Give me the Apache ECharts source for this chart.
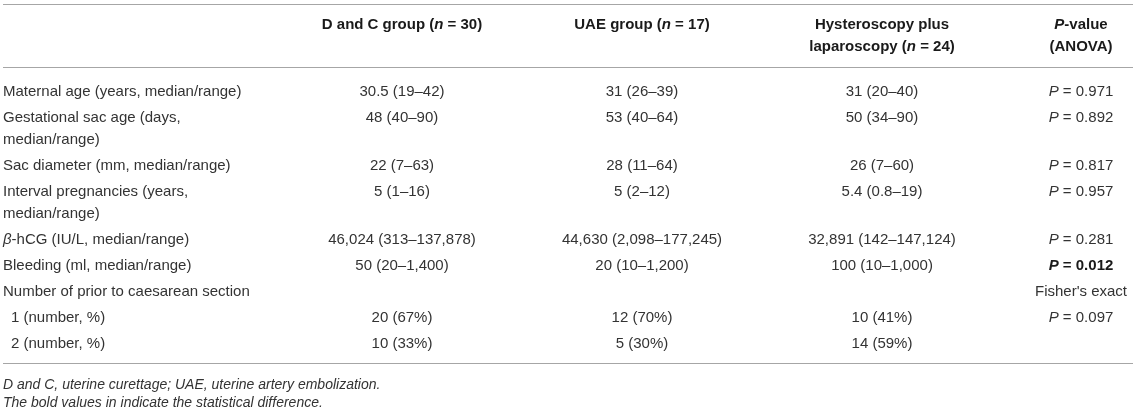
<!DOCTYPE html>
<html lang="en">
<head>
  <title>Table 1</title>
  <meta charset="utf-8"/>
  <script src="https://cdn.jsdelivr.net/npm/echarts@6/dist/echarts.min.js"></script>
  <style>
    html, body { margin: 0; padding: 0; background: #fff; }
    #main { width: 1145px; height: 410px; }
  </style>
</head>
<body>
<div id="main"></div>
<script>
  // table content
  var headers = [
    '',
    'D and C group (n = 30)',
    'UAE group (n = 17)',
    'Hysteroscopy plus\nlaparoscopy (n = 24)',
    'P-value\n(ANOVA)'
  ];
  var rowLabels = [
    'Maternal age (years, median/range)',
    'Gestational sac age (days,\nmedian/range)',
    'Sac diameter (mm, median/range)',
    'Interval pregnancies (years,\nmedian/range)',
    'β-hCG (IU/L, median/range)',
    'Bleeding (ml, median/range)',
    'Number of prior to caesarean section',
    '1 (number, %)',
    '2 (number, %)'
  ];
  var dcGroup = ['30.5 (19–42)', '48 (40–90)', '22 (7–63)', '5 (1–16)', '46,024 (313–137,878)', '50 (20–1,400)', '', '20 (67%)', '10 (33%)'];
  var uaeGroup = ['31 (26–39)', '53 (40–64)', '28 (11–64)', '5 (2–12)', '44,630 (2,098–177,245)', '20 (10–1,200)', '', '12 (70%)', '5 (30%)'];
  var hlGroup = ['31 (20–40)', '50 (34–90)', '26 (7–60)', '5.4 (0.8–19)', '32,891 (142–147,124)', '100 (10–1,000)', '', '10 (41%)', '14 (59%)'];
  var pValues = ['P = 0.971', 'P = 0.892', 'P = 0.817', 'P = 0.957', 'P = 0.281', 'P = 0.012', 'Fisher\'s exact', 'P = 0.097', ''];
  var significant = [0, 0, 0, 0, 0, 1, 0, 0, 0];
  var subRows = [0, 0, 0, 0, 0, 0, 0, 1, 1];
  var footnotes = [
    'D and C, uterine curettage; UAE, uterine artery embolization.',
    'The bold values in indicate the statistical difference.'
  ];

  // layout (pixels on the hidden value axes)
  var W = 1145, H = 410;
  var colX = [3, 402, 642, 882, 1081];
  var headY = 25, headLine = 22;
  var firstY = 92, rowStep = 26, lineStep = 22;
  var indent = 8;
  var ruleX = [3, 1133];
  var ruleY = [4, 67, 363];
  var noteY = [385, 403];
  var FONT = '"Liberation Sans", Arial, Helvetica, sans-serif';

  var columns = [rowLabels, dcGroup, uaeGroup, hlGroup, pValues];

  // row positions from the number of text lines in each label
  var rowY = [];
  var y = firstY;
  for (var r = 0; r < rowLabels.length; r++) {
    rowY.push(y);
    y += rowStep + (rowLabels[r].split('\n').length - 1) * lineStep;
  }

  var cells = [];
  for (var c = 0; c < headers.length; c++) {
    if (headers[c]) cells.push({x: colX[c], y: headY, text: headers[c], kind: 'head', col: c});
  }
  for (var r = 0; r < rowLabels.length; r++) {
    for (var c = 0; c < columns.length; c++) {
      var t = columns[c][r];
      if (!t) continue;
      var x = colX[c] + (c === 0 && subRows[r] ? indent : 0);
      var kind = (c === 4 && significant[r]) ? 'bold' : 'body';
      cells.push({x: x, y: rowY[r], text: t, kind: kind, col: c});
    }
  }
  for (var i = 0; i < footnotes.length; i++) {
    cells.push({x: colX[0], y: noteY[i], text: footnotes[i], kind: 'note', col: 0});
  }

  // italic for n, P and beta
  function richify(str) {
    return str.replace(/β|\bn(?= =)|\bP(?= =|-value)/g, function (m) {
      return '{it|' + m + '}';
    });
  }

  var styles = {
    head: {size: 15, weight: 'bold', style: 'normal', fill: '#1a1a1a', lh: headLine},
    body: {size: 15, weight: 'normal', style: 'normal', fill: '#333', lh: lineStep},
    bold: {size: 15, weight: 'bold', style: 'normal', fill: '#1a1a1a', lh: lineStep},
    note: {size: 14, weight: 'normal', style: 'italic', fill: '#333', lh: lineStep}
  };

  var myChart = echarts.init(document.getElementById('main'), null, {renderer: 'canvas'});

  var option = {
    animation: false,
    backgroundColor: '#fff',
    grid: {left: 0, right: 0, top: 0, bottom: 0},
    xAxis: {type: 'value', min: 0, max: W, show: false},
    yAxis: {type: 'value', min: 0, max: H, inverse: true, show: false},
    series: [
      {
        type: 'custom',
        name: 'rules',
        clip: false,
        data: ruleY.map(function (ry) { return [ruleX[0], ruleX[1], ry]; }),
        renderItem: function (params, api) {
          var p1 = api.coord([api.value(0), api.value(2)]);
          var p2 = api.coord([api.value(1), api.value(2)]);
          return {
            type: 'line',
            shape: {x1: p1[0], y1: Math.round(p1[1]) + 0.5, x2: p2[0], y2: Math.round(p2[1]) + 0.5},
            style: {stroke: '#a6a6a6', lineWidth: 1.2}
          };
        }
      },
      {
        type: 'custom',
        name: 'cells',
        clip: false,
        data: cells.map(function (d) { return [d.x, d.y]; }),
        renderItem: function (params, api) {
          var d = cells[params.dataIndex];
          var s = styles[d.kind];
          var p = api.coord([api.value(0), api.value(1)]);
          var itStyle = {
            fontStyle: 'italic', fontWeight: s.weight, fontSize: s.size,
            fontFamily: FONT, fill: s.fill, lineHeight: s.lh
          };
          return {
            type: 'text',
            x: p[0],
            y: p[1] - s.lh / 2,
            style: {
              text: richify(d.text),
              fontSize: s.size,
              fontFamily: FONT,
              fontWeight: s.weight,
              fontStyle: s.style,
              fill: s.fill,
              lineHeight: s.lh,
              align: d.col === 0 ? 'left' : 'center',
              verticalAlign: 'top',
              rich: {it: itStyle}
            }
          };
        }
      }
    ]
  };

  myChart.setOption(option);
</script>
</body>
</html>
